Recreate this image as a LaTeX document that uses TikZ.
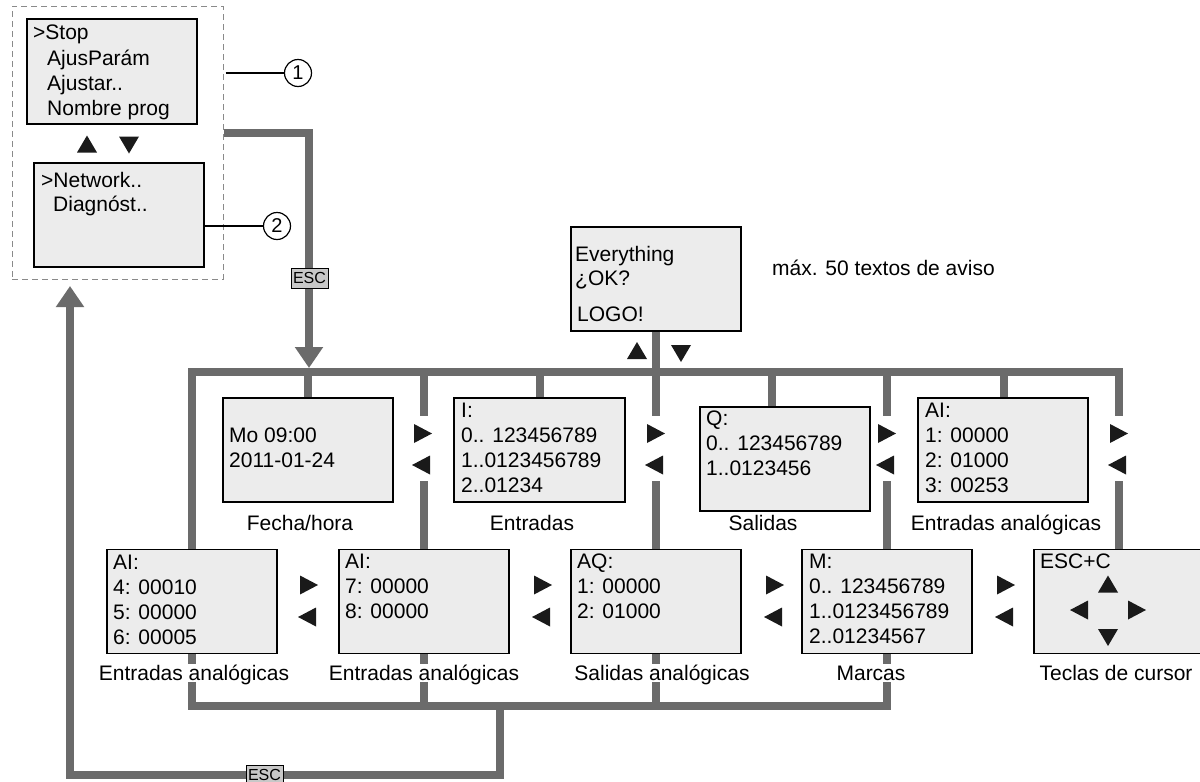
\documentclass[tikz,border=0pt]{standalone}
\usepackage{fontspec}
\setmainfont{Liberation Sans}
\usetikzlibrary{arrows.meta}
\definecolor{busgray}{HTML}{6B6B6B}
\definecolor{scrfill}{HTML}{ECECEC}
\definecolor{escfill}{HTML}{C8C8C8}
\definecolor{dashgray}{HTML}{8A8A8A}
\definecolor{trifill}{HTML}{1A1A1A}
\newcommand{\scrline}[4]{\node[txt] (#1) at (#2,#3) {#4};}
\begin{document}
\begin{tikzpicture}[x=1pt,y=-1pt,
  scr/.style={draw=black, line width=1.3pt, fill=scrfill, minimum width=170pt, minimum height=104pt, inner sep=0pt},
  bus/.style={draw=busgray, line width=7.5pt, line join=miter},
  txt/.style={anchor=base west, inner sep=0pt, font=\fontsize{21}{25}\selectfont},
  lbl/.style={anchor=base, inner sep=0pt, fill=white, text height=16pt, text depth=2pt, font=\fontsize{21}{25}\selectfont},
  escbox/.style={draw=black, line width=1pt, fill=escfill, minimum width=37pt, minimum height=20pt, inner sep=0pt, font=\fontsize{16}{16}\selectfont},
  callout/.style={circle, draw=black, line width=1.2pt, fill=white, minimum size=27pt, inner sep=0pt, font=\fontsize{20}{20}\selectfont},
  rtri/.pic={\fill[trifill] (-9,-9.5) -- (9,0) -- (-9,9.5) -- cycle;},
  ltri/.pic={\fill[trifill] (9,-9.5) -- (-9,0) -- (9,9.5) -- cycle;},
  utri/.pic={\fill[trifill] (-10,8.5) -- (0,-8.5) -- (10,8.5) -- cycle;},
  dtri/.pic={\fill[trifill] (-10,-8.5) -- (0,8.5) -- (10,-8.5) -- cycle;},
]
\useasboundingbox (0,0) rectangle (1200,782);

% ---- menu group (dashed) ----
\node[draw=dashgray, line width=1pt, dash pattern=on 6pt off 4pt, minimum width=211pt, minimum height=273pt, inner sep=0pt] (menu) at (117.5,142.5) {};
\node[scr, minimum height=105pt] (stop) at (112,71.5) {};
\node[scr] (net) at (119,215) {};
\scrline{st1}{33}{39}{>Stop}
\scrline{st2}{47}{65}{AjusParám}
\scrline{st3}{47}{90}{Ajustar..}
\scrline{st4}{47}{115}{Nombre prog}
\scrline{nw1}{41}{187}{>Network..}
\scrline{nw2}{53}{211}{Diagnóst..}
\pic at (87,144) {utri};
\pic at (129,145) {dtri};

% callouts
\node[callout] (c1) at (298,73) {1};
\node[callout] (c2) at (277,226) {2};
\draw[line width=1.2pt] ([xshift=2pt]menu.east |- c1) -- (c1.west);
\draw[line width=1.2pt] (net.east |- c2) -- (c2.west);

% ---- coordinates of the buses ----
\coordinate (escStart) at (224,133);
\coordinate (escDrop) at (309,368);
\coordinate (retTip) at (70,286);

% ---- gray connectors ----
\draw[bus, -{Triangle[width=27pt,length=21pt]}] (escStart) -- (309,133) -- (escDrop);

\node[scr] (every) at (656,279) {};
\node[scr] (fecha) at (308,450) {};
\node[scr, minimum width=171pt] (entr) at (539.5,450) {};
\node[scr] (sal) at (785,459) {};
\node[scr] (aiA) at (1003,450) {};
\node[scr] (ai4) at (192,601.5) {};
\node[scr] (ai7) at (424,601.5) {};
\node[scr] (aq) at (656,601.5) {};
\node[scr] (mrk) at (887,601.5) {};
\node[scr] (escc) at (1119,601.5) {};

\draw[bus] (ai4.north) -- (192,372) -- (1119,372) -- (1119,416);
\draw[bus] (308,372) -- (fecha.north);
\draw[bus] (540,372) -- (540,372 |- entr.north);
\draw[bus] (772,372) -- (772,372 |- sal.north);
\draw[bus] (1004,372) -- (1004,372 |- aiA.north);
\draw[bus] (424,372) -- (424,416);
\draw[bus] (424,481) -- (ai7.north);
\draw[bus] (every.south) -- (656,416);
\draw[bus] (656,481) -- (aq.north);
\draw[bus] (887,372) -- (887,416);
\draw[bus] (887,481) -- (mrk.north);
\draw[bus] (1119,481) -- (escc.north);

\draw[bus] (ai4.south) -- (192,706) -- (887,706) -- (mrk.south);
\draw[bus] (ai7.south) -- (424,706);
\draw[bus] (aq.south) -- (656,706);
\draw[bus, -{Triangle[width=27pt,length=21pt]}] (500,706) -- (500,775) -- (70,775) -- (retTip);

\node[escbox] (esc1) at (309.5,278) {ESC};
\node[escbox] (esc2) at (264.5,775) {ESC};

% ---- screen texts ----
\scrline{ev1}{575}{261}{Everything}
\scrline{ev2}{575}{285}{¿OK?}
\scrline{ev3}{577}{321}{LOGO!}
\node[anchor=base west, inner sep=0pt, font=\fontsize{21}{25}\selectfont] (maxl) at (772,275) {máx. 50 textos de aviso};

\scrline{fe1}{229}{442}{Mo 09:00}
\scrline{fe2}{229}{467}{2011-01-24}

\scrline{en1}{461}{417}{I:}
\scrline{en2}{461}{442}{0.. 123456789}
\scrline{en3}{461}{467}{1..0123456789}
\scrline{en4}{461}{492}{2..01234}

\scrline{sa1}{706}{425}{Q:}
\scrline{sa2}{706}{450}{0.. 123456789}
\scrline{sa3}{706}{475}{1..0123456}

\scrline{aa1}{925}{417}{AI:}
\scrline{aa2}{925}{442}{1: 00000}
\scrline{aa3}{925}{467}{2: 01000}
\scrline{aa4}{925}{492}{3: 00253}

\scrline{ab1}{113}{569}{AI:}
\scrline{ab2}{113}{594}{4: 00010}
\scrline{ab3}{113}{619}{5: 00000}
\scrline{ab4}{113}{644}{6: 00005}

\scrline{ac1}{345}{568}{AI:}
\scrline{ac2}{345}{593}{7: 00000}
\scrline{ac3}{345}{618}{8: 00000}

\scrline{aq1}{577}{568}{AQ:}
\scrline{aq2}{577}{593}{1: 00000}
\scrline{aq3}{577}{618}{2: 01000}

\scrline{mk1}{809}{568}{M:}
\scrline{mk2}{809}{593}{0.. 123456789}
\scrline{mk3}{809}{618}{1..0123456789}
\scrline{mk4}{809}{643}{2..01234567}

\scrline{ec1}{1040}{568}{ESC+C}

% ---- labels ----
\node[lbl] (lfe) at (300,530) {Fecha/hora};
\node[lbl] (len) at (532,530) {Entradas};
\node[lbl] (lsa) at (763,530) {Salidas};
\node[lbl] (laa) at (1006,530) {Entradas analógicas};
\node[lbl] (lab) at (194,680) {Entradas analógicas};
\node[lbl] (lac) at (424,680) {Entradas analógicas};
\node[lbl] (laq) at (662,680) {Salidas analógicas};
\node[lbl] (lmk) at (871,680) {Marcas};
\node[lbl] (lec) at (1116,680) {Teclas de cursor};

% ---- triangles ----
\pic at (637,350.5) {utri};
\pic at (681,353.5) {dtri};
\foreach \x in {423,656,887,1119} {
  \pic at (\x,433.5) {rtri};
  \pic at (\x-2,465) {ltri};
}
\foreach \x in {309,543,775,1006} {
  \pic at (\x,585) {rtri};
  \pic at (\x-2,617) {ltri};
}
\pic at (1108,584) {utri};
\pic at (1079,610) {ltri};
\pic at (1137,610) {rtri};
\pic at (1108,637.5) {dtri};
\end{tikzpicture}
\end{document}
